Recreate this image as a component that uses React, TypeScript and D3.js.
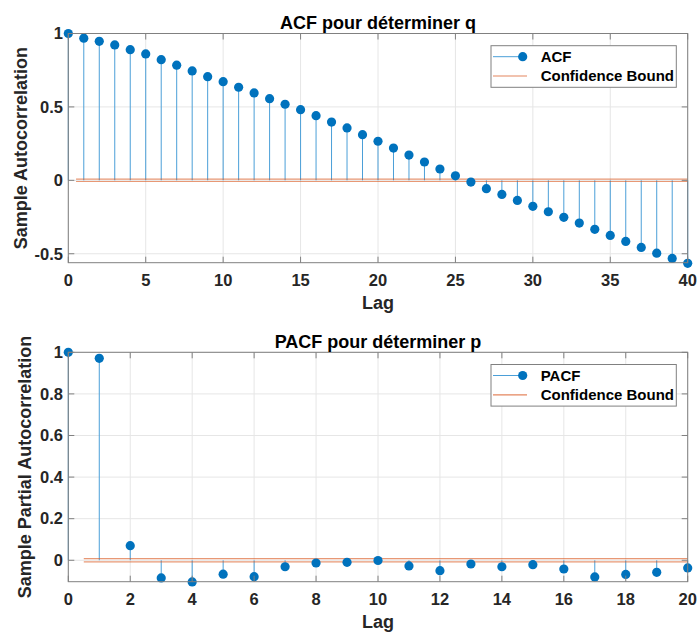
import React, { useRef, useEffect } from 'react';
import * as d3 from 'd3';

// values (lag 0..40 and 0..20)
const acfLags = d3.range(0, 41);
const acfValues = [
  1.0, 0.968, 0.947, 0.922, 0.89, 0.861, 0.822, 0.784, 0.745, 0.706,
  0.672, 0.634, 0.595, 0.556, 0.518, 0.481, 0.44, 0.397, 0.357, 0.311,
  0.266, 0.22, 0.172, 0.125, 0.077, 0.031, -0.012, -0.057, -0.096, -0.137,
  -0.177, -0.214, -0.252, -0.291, -0.334, -0.375, -0.416, -0.457, -0.496, -0.532,
  -0.565,
];
const pacfLags = d3.range(0, 21);
const pacfValues = [
  1.0, 0.971, 0.07, -0.085, -0.104, -0.067, -0.079, -0.031, -0.013, -0.01,
  -0.001, -0.027, -0.05, -0.018, -0.031, -0.021, -0.042, -0.08, -0.068, -0.058,
  -0.037,
];
const confBound = 0.008;

const acfXTicks = [0, 5, 10, 15, 20, 25, 30, 35, 40];
const acfYTicks = [-0.5, 0, 0.5, 1];
const pacfXTicks = [0, 2, 4, 6, 8, 10, 12, 14, 16, 18, 20];
const pacfYTicks = [0, 0.2, 0.4, 0.6, 0.8, 1];

const W = 698;
const H = 633;
const FONT = '"Liberation Sans", Arial, Helvetica, sans-serif';
const BLUE = '#0072BD';
const STEM = '#4b9fd8';
const ORANGE = '#D95319';
const AXIS = '#808080';
const TEXT = '#262626';

type Panel = {
  top: number;
  bottom: number;
  lags: number[];
  values: number[];
  xMax: number;
  yMin: number;
  xTicks: number[];
  yTicks: number[];
  title: string;
  yLabel: string;
  yLabelX: number;
  name: string;
};

const panels: Panel[] = [
  {
    top: 33.5, bottom: 262.7, lags: acfLags, values: acfValues, xMax: 40, yMin: -0.561,
    xTicks: acfXTicks, yTicks: acfYTicks, title: 'ACF pour déterminer q',
    yLabel: 'Sample Autocorrelation', yLabelX: 27, name: 'ACF',
  },
  {
    top: 352.3, bottom: 581.7, lags: pacfLags, values: pacfValues, xMax: 20, yMin: -0.103,
    xTicks: pacfXTicks, yTicks: pacfYTicks, title: 'PACF pour déterminer p',
    yLabel: 'Sample Partial Autocorrelation', yLabelX: 31, name: 'PACF',
  },
];

const App = () => {
  const ref = useRef<SVGSVGElement>(null);

  useEffect(() => {
    const svg = d3.select(ref.current);
    svg.selectAll('*').remove();
    const left = 68.3;
    const right = 687.7;

    panels.forEach(p => {
      const x = d3.scaleLinear().domain([0, p.xMax]).range([left, right]);
      const y = d3.scaleLinear().domain([p.yMin, 1]).range([p.bottom, p.top]);
      const g = svg.append('g').style('font-family', FONT);

      // grid
      g.selectAll('.gx').data(p.xTicks).join('line')
        .attr('x1', d => x(d)).attr('x2', d => x(d))
        .attr('y1', p.top).attr('y2', p.bottom)
        .attr('stroke', '#e6e6e6').attr('stroke-width', 1);
      g.selectAll('.gy').data(p.yTicks).join('line')
        .attr('x1', left).attr('x2', right)
        .attr('y1', d => y(d)).attr('y2', d => y(d))
        .attr('stroke', '#e6e6e6').attr('stroke-width', 1);

      // stems
      g.append('g').selectAll('line').data(p.values).join('line')
        .attr('x1', (d, i) => x(p.lags[i])).attr('x2', (d, i) => x(p.lags[i]))
        .attr('y1', y(0)).attr('y2', d => y(d))
        .attr('stroke', STEM).attr('stroke-width', 1);

      // confidence bounds
      [confBound, -confBound].forEach(b => {
        g.append('line')
          .attr('x1', x(0.5)).attr('x2', x(p.xMax))
          .attr('y1', y(b)).attr('y2', y(b))
          .attr('stroke', ORANGE).attr('stroke-opacity', 0.6).attr('stroke-width', 1.2);
      });

      // markers
      g.append('g').selectAll('circle').data(p.values).join('circle')
        .attr('cx', (d, i) => x(p.lags[i])).attr('cy', d => y(d))
        .attr('r', 4.6).attr('fill', BLUE);

      // box + ticks
      g.append('rect')
        .attr('x', left).attr('y', p.top)
        .attr('width', right - left).attr('height', p.bottom - p.top)
        .attr('fill', 'none').attr('stroke', AXIS).attr('stroke-width', 1);
      const tl = 6;
      p.xTicks.forEach(t => {
        g.append('line').attr('x1', x(t)).attr('x2', x(t))
          .attr('y1', p.bottom).attr('y2', p.bottom - tl).attr('stroke', AXIS);
        g.append('line').attr('x1', x(t)).attr('x2', x(t))
          .attr('y1', p.top).attr('y2', p.top + tl).attr('stroke', AXIS);
        g.append('text').attr('x', x(t)).attr('y', p.bottom + 23)
          .attr('text-anchor', 'middle').attr('font-size', 16.5).attr('font-weight', 'bold')
          .attr('fill', TEXT).text(String(t));
      });
      p.yTicks.forEach(t => {
        g.append('line').attr('x1', left).attr('x2', left + tl)
          .attr('y1', y(t)).attr('y2', y(t)).attr('stroke', AXIS);
        g.append('line').attr('x1', right).attr('x2', right - tl)
          .attr('y1', y(t)).attr('y2', y(t)).attr('stroke', AXIS);
        g.append('text').attr('x', 63).attr('y', y(t)).attr('dy', '0.35em')
          .attr('text-anchor', 'end').attr('font-size', 16.5).attr('font-weight', 'bold')
          .attr('fill', TEXT).text(String(t));
      });

      // title & labels
      g.append('text').attr('x', (left + right) / 2).attr('y', p.top - 4.4)
        .attr('text-anchor', 'middle').attr('font-size', 18).attr('font-weight', 'bold')
        .attr('fill', '#000').text(p.title);
      g.append('text').attr('x', (left + right) / 2).attr('y', p.bottom + 46.5)
        .attr('text-anchor', 'middle').attr('font-size', 18).attr('font-weight', 'bold')
        .attr('fill', TEXT).text('Lag');
      g.append('text')
        .attr('transform', `translate(${p.yLabelX}, ${(p.top + p.bottom) / 2}) rotate(-90)`)
        .attr('text-anchor', 'middle').attr('font-size', 18).attr('font-weight', 'bold')
        .attr('fill', TEXT).text(p.yLabel);

      // legend
      const lx = 491;
      const ly = p.top + 12.2;
      const leg = g.append('g');
      leg.append('rect').attr('x', lx).attr('y', ly).attr('width', 185.3).attr('height', 41.6)
        .attr('fill', '#fff').attr('stroke', AXIS).attr('stroke-width', 1);
      leg.append('line').attr('x1', lx + 2).attr('x2', lx + 36)
        .attr('y1', ly + 11).attr('y2', ly + 11).attr('stroke', STEM);
      leg.append('circle').attr('cx', lx + 31.7).attr('cy', ly + 11).attr('r', 4.6).attr('fill', BLUE);
      leg.append('line').attr('x1', lx + 2).attr('x2', lx + 36)
        .attr('y1', ly + 30.3).attr('y2', ly + 30.3)
        .attr('stroke', ORANGE).attr('stroke-opacity', 0.7).attr('stroke-width', 1.2);
      leg.append('text').attr('x', lx + 49.7).attr('y', ly + 11).attr('dy', '0.35em')
        .attr('font-size', 15).attr('font-weight', 'bold').attr('fill', '#000').text(p.name);
      leg.append('text').attr('x', lx + 49.7).attr('y', ly + 30.3).attr('dy', '0.35em')
        .attr('font-size', 15).attr('font-weight', 'bold').attr('fill', '#000').text('Confidence Bound');
    });

    return () => {
      svg.selectAll('*').remove();
    };
  }, []);

  return (
    <svg
      ref={ref}
      width={W}
      height={H}
      style={{ position: 'absolute', left: 0, top: 0, background: '#fff' }}
    />
  );
};

export default App;
